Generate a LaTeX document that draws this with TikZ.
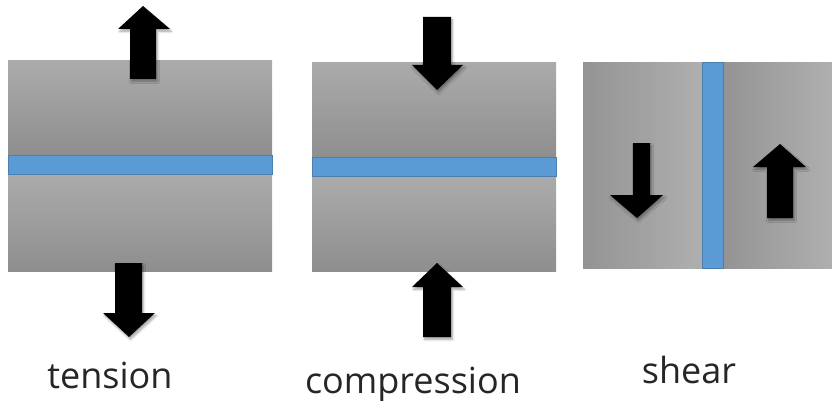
\documentclass[tikz,border=0pt]{standalone}
\usepackage{fontspec}
\setmainfont{Open Sans}
\usetikzlibrary{shadows.blur}
\definecolor{bandblue}{HTML}{5B9BD5}
\definecolor{bandedge}{HTML}{4A7FB0}
\definecolor{glight}{HTML}{ABABAB}
\definecolor{gdark}{HTML}{8E8E8E}
\tikzset{
  vband/.style={top color=glight, bottom color=gdark},
  hband/.style={left color=gdark!95!white, right color=glight!95!white},
  blueband/.style={fill=bandblue, draw=bandedge, line width=1pt},
  fatarrow/.style={fill=black, draw=none, blur shadow={shadow blur steps=6, shadow xshift=1.5pt, shadow yshift=-2.5pt, shadow opacity=35}},
  lbl/.style={font=\fontsize{36}{42}\selectfont, text=black!85, inner sep=0pt, anchor=base}
}
\begin{document}
\begin{tikzpicture}[x=1pt,y=-1pt]
\useasboundingbox (0,0) rectangle (832,401);
% ---------- tension ----------
\shade[vband] (8,61) rectangle (272,155);
\shade[vband] (8,174) rectangle (272,271);
\filldraw[blueband] (8,155) rectangle (272,174);
\fill[fatarrow] (130,79) -- (130,29) -- (118,29) -- (143,6) -- (170,29) -- (156,29) -- (156,79) -- cycle;
\fill[fatarrow] (115,263) -- (115,313) -- (103,313) -- (129,337) -- (155,313) -- (142,313) -- (142,263) -- cycle;
\node[lbl] (tension) at (110,388) {tension};
% ---------- compression ----------
\shade[vband] (312,63) rectangle (556,157);
\shade[vband] (312,176) rectangle (556,271);
\filldraw[blueband] (312,157) rectangle (556,176);
\fill[fatarrow] (423,17) -- (423,65) -- (412,65) -- (437,90) -- (463,65) -- (451,65) -- (451,17) -- cycle;
\fill[fatarrow] (423,337) -- (423,287) -- (412,287) -- (437,263) -- (463,287) -- (451,287) -- (451,337) -- cycle;
\node[lbl] (compression) at (413,393) {compression};
% ---------- shear ----------
\shade[hband] (583,63) rectangle (702,268);
\shade[hband] (723,63) rectangle (832,268);
\filldraw[blueband] (702,63) rectangle (723,268);
\fill[fatarrow] (633,143) -- (633,195) -- (610,195) -- (637,218) -- (663,195) -- (650,195) -- (650,143) -- cycle;
\fill[fatarrow] (767,218) -- (767,167) -- (753,167) -- (780,144) -- (806,167) -- (793,167) -- (793,218) -- cycle;
\node[lbl] (shear) at (689,383) {shear};
\end{tikzpicture}
\end{document}
